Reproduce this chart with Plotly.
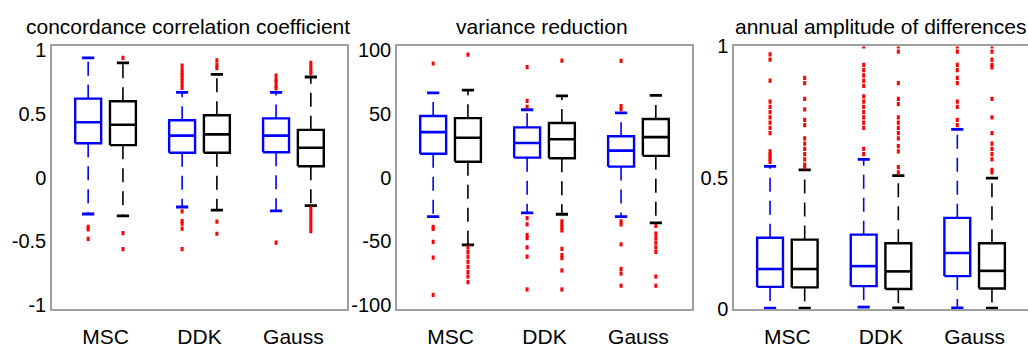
import plotly.graph_objects as go

# ---------------- data ----------------
categories = ["MSC", "DDK", "Gauss"]
# order of boxes in each panel: MSC blue, MSC black, DDK blue, DDK black, Gauss blue, Gauss black
box_group = [0, 0, 1, 1, 2, 2]
box_series = [0, 1, 0, 1, 0, 1]

# panel 1: concordance correlation coefficient
ccc_hi = [0.94, 0.90, 0.67, 0.81, 0.67, 0.79]
ccc_q3 = [0.62, 0.60, 0.45, 0.49, 0.465, 0.375]
ccc_med = [0.435, 0.415, 0.33, 0.34, 0.33, 0.235]
ccc_q1 = [0.27, 0.255, 0.195, 0.195, 0.20, 0.09]
ccc_lo = [-0.285, -0.30, -0.23, -0.255, -0.26, -0.22]
ccc_out = [
    [-0.385, -0.405, -0.48],
    [0.94, -0.435, -0.56],
    [0.88, 0.85, 0.825, 0.805, 0.785, 0.76, 0.73, 0.705, -0.265, -0.34, -0.36, -0.40, -0.56],
    [0.92, 0.885, 0.86, -0.345, -0.44],
    [0.80, 0.77, 0.75, 0.72, 0.70, -0.51],
    [0.90, 0.87, 0.84, 0.82, -0.24, -0.27, -0.30, -0.33, -0.36, -0.39, -0.42],
]

# panel 2: variance reduction
vr_hi = [66.5, 68.7, 53.3, 64.1, 50.8, 64.6]
vr_q3 = [48.4, 46.7, 39.5, 42.9, 32.5, 46.0]
vr_med = [35.7, 31.3, 27.2, 30.1, 21.2, 31.8]
vr_q1 = [18.8, 12.5, 15.7, 15.2, 8.7, 17.1]
vr_lo = [-30.6, -52.8, -27.7, -28.7, -30.6, -35.4]
vr_out = [
    [89.6, -38.6, -40.2, -50.4, -62.7, -92.0],
    [96.6, -54.7, -58.3, -62.0, -66.0, -70.0, -74.0, -77.6, -82.0],
    [86.7, 60.2, 55.5, -31.8, -36.6, -45.0, -47.5, -54.7, -62.0, -87.7],
    [91.8, -34.2, -36.6, -39.0, -41.4, -55.9, -60.7, -63.1, -72.8, -87.7],
    [91.6, 56.1, 53.7, -34.2, -36.6, -52.3, -71.6, -75.2, -84.8],
    [-37.8, -43.9, -47.5, -51.0, -54.7, -58.3, -77.6, -84.8],
]

# panel 3: annual amplitude of differences
aa_hi = [0.543, 0.53, 0.57, 0.508, 0.684, 0.498]
aa_q3 = [0.271, 0.264, 0.283, 0.25, 0.347, 0.25]
aa_med = [0.152, 0.152, 0.163, 0.143, 0.213, 0.145]
aa_q1 = [0.084, 0.082, 0.087, 0.076, 0.125, 0.078]
aa_lo = [0.003, 0.003, 0.007, 0.004, 0.004, 0.003]
aa_out = [
    [0.97, 0.95, 0.87, 0.79, 0.77, 0.75, 0.73, 0.71, 0.69, 0.67, 0.60, 0.59, 0.58, 0.57, 0.56],
    [0.88, 0.86, 0.80, 0.76, 0.72, 0.70, 0.65, 0.63, 0.61, 0.59, 0.57, 0.55, 0.54],
    [1.0, 0.93, 0.91, 0.89, 0.87, 0.85, 0.81, 0.79, 0.77, 0.75, 0.73, 0.71, 0.69, 0.61, 0.59],
    [1.0, 0.98, 0.86, 0.80, 0.78, 0.73, 0.71, 0.69, 0.67, 0.65, 0.62, 0.60, 0.54, 0.52],
    [1.0, 0.98, 0.93, 0.91, 0.88, 0.86, 0.79, 0.77, 0.72, 0.70],
    [1.0, 0.98, 0.95, 0.93, 0.92, 0.80, 0.73, 0.67, 0.63, 0.61, 0.59, 0.57, 0.53, 0.52],
]

titles = ["concordance correlation coefficient", "variance reduction", "annual amplitude of differences"]
ccc_ticks = [-1, -0.5, 0, 0.5, 1]
ccc_ticktext = ["-1", "-0.5", "0", "0.5", "1"]
vr_ticks = [-100, -50, 0, 50, 100]
vr_ticktext = ["-100", "-50", "0", "50", "100"]
aa_ticks = [0, 0.5, 1]
aa_ticktext = ["0", "0.5", "1"]

# ---------------- style ----------------
FONT = "Arial, 'Liberation Sans', sans-serif"
series_colors = ["#0000ff", "#000000"]
series_offset = [-0.185, 0.185]
BOX_HW = 0.138
CAP_HW = 0.065
W, H = 1028, 348
x_domains = [(52, 347), (397, 692), (734, 1028)]
plot_top, plot_bottom = 38.5, 324
title_x = [187.5, 541.5, 880]
yranges = [[-1.03, 1.03], [-103, 103], [0, 1]]
xrange_ = [0.43, 3.57]

panels = [
    (ccc_hi, ccc_q3, ccc_med, ccc_q1, ccc_lo, ccc_out, ccc_ticks, ccc_ticktext),
    (vr_hi, vr_q3, vr_med, vr_q1, vr_lo, vr_out, vr_ticks, vr_ticktext),
    (aa_hi, aa_q3, aa_med, aa_q1, aa_lo, aa_out, aa_ticks, aa_ticktext),
]

fig = go.Figure()

for p, (hi, q3, med, q1, lo, out, tv, tt) in enumerate(panels):
    xa = "x" if p == 0 else f"x{p+1}"
    ya = "y" if p == 0 else f"y{p+1}"
    for s in range(2):
        idx = [k for k in range(6) if box_series[k] == s]
        bx, by, mx, my, wx, wy, cx, cy, ox, oy = [], [], [], [], [], [], [], [], [], []
        for k in idx:
            c = box_group[k] + 1 + series_offset[s]
            bx += [c - BOX_HW, c + BOX_HW, c + BOX_HW, c - BOX_HW, c - BOX_HW, None]
            by += [q1[k], q1[k], q3[k], q3[k], q1[k], None]
            mx += [c - BOX_HW, c + BOX_HW, None]
            my += [med[k], med[k], None]
            wx += [c, c, None, c, c, None]
            wy += [q3[k], hi[k], None, q1[k], lo[k], None]
            cx += [c - CAP_HW, c + CAP_HW, None, c - CAP_HW, c + CAP_HW, None]
            cy += [hi[k], hi[k], None, lo[k], lo[k], None]
            ox += [c] * len(out[k])
            oy += out[k]
        col = series_colors[s]
        fig.add_trace(go.Scatter(x=wx, y=wy, mode="lines", xaxis=xa, yaxis=ya,
                                 line=dict(color=col, width=1.6, dash="14px,9px"),
                                 showlegend=False, hoverinfo="skip"))
        fig.add_trace(go.Scatter(x=bx, y=by, mode="lines", xaxis=xa, yaxis=ya,
                                 line=dict(color=col, width=2.4),
                                 showlegend=False, hoverinfo="skip"))
        fig.add_trace(go.Scatter(x=mx, y=my, mode="lines", xaxis=xa, yaxis=ya,
                                 line=dict(color=col, width=2.6),
                                 showlegend=False, hoverinfo="skip"))
        fig.add_trace(go.Scatter(x=cx, y=cy, mode="lines", xaxis=xa, yaxis=ya,
                                 line=dict(color=col, width=2.8),
                                 showlegend=False, hoverinfo="skip"))
        fig.add_trace(go.Scatter(x=ox, y=oy, mode="markers", xaxis=xa, yaxis=ya,
                                 marker=dict(symbol="line-ns", size=3,
                                             line=dict(color="#ff0000", width=3)),
                                 showlegend=False, hoverinfo="skip"))

    x0, x1 = x_domains[p]
    xdict = dict(domain=[x0 / W, min(x1 / W, 1.0)], range=xrange_, anchor=ya,
                 tickvals=[1, 2, 3], ticktext=categories, showgrid=False, zeroline=False,
                 showline=True, linecolor="#a0a0a0", linewidth=1.5, mirror=True,
                 ticks="", ticklabelstandoff=8,
                 tickfont=dict(family=FONT, size=21, color="#000"))
    ydict = dict(domain=[(H - plot_bottom) / H, (H - plot_top) / H], range=yranges[p], anchor=xa,
                 tickvals=tv, ticktext=tt, showgrid=False, zeroline=False,
                 showline=True, linecolor="#a0a0a0", linewidth=1.5, mirror=(p < 2),
                 ticks="", tickfont=dict(family=FONT, size=20, color="#000"))
    key = "" if p == 0 else str(p + 1)
    fig.update_layout(**{f"xaxis{key}": xdict, f"yaxis{key}": ydict})
    fig.add_annotation(text=titles[p], xref="paper", yref="paper",
                       x=title_x[p] / W, y=(H - 17) / H, xanchor="center", yanchor="middle",
                       showarrow=False, borderpad=0,
                       font=dict(family=FONT, size=21, color="#000"))

fig.update_layout(width=W, height=H, margin=dict(l=0, r=0, t=0, b=0),
                  paper_bgcolor="white", plot_bgcolor="white", showlegend=False)

fig.write_html("out.html")
